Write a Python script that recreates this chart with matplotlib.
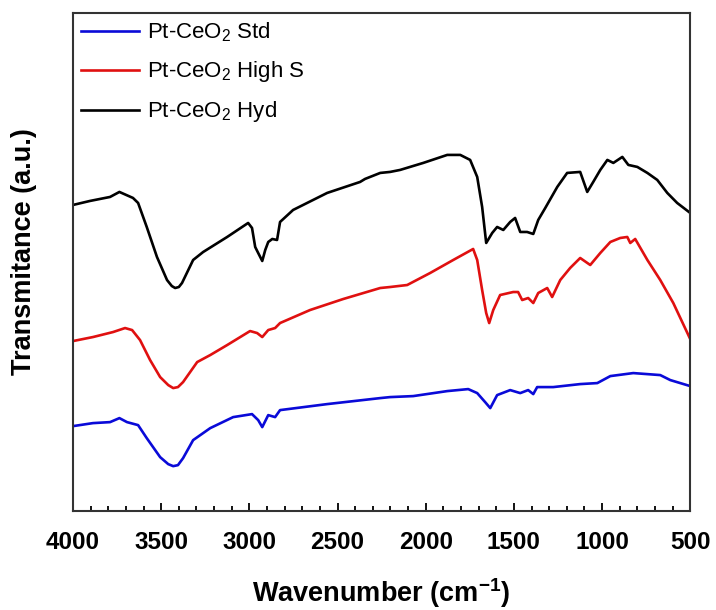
import numpy as np
import matplotlib
matplotlib.use('Agg')
import matplotlib.pyplot as plt
from matplotlib.ticker import MultipleLocator

plt.rcParams['font.family'] = ['Liberation Sans', 'DejaVu Sans']
plt.rcParams['mathtext.fontset'] = 'custom'
plt.rcParams['mathtext.rm'] = 'Liberation Sans'
plt.rcParams['mathtext.bf'] = 'Liberation Sans:bold'

# Spektra FTIR (satuan arbitrer)
wn_hyd = [4000, 3904, 3790, 3737, 3660, 3631, 3582, 3524, 3467, 3440, 3421, 3400, 3382, 3319, 3262,
          3126, 3007, 2985, 2967, 2950, 2927, 2910, 2893, 2870, 2843, 2826, 2752, 2559,
          2372, 2344, 2258, 2202, 2145, 2014, 1878, 1804, 1748, 1708, 1680, 1657, 1623,
          1595, 1560, 1521, 1493, 1464, 1425, 1390, 1362, 1322, 1254, 1198, 1124, 1084,
          1050, 1010, 970, 936, 885, 851, 800, 743, 687, 630, 574, 500]
t_hyd = [306, 310, 314, 319, 313, 308, 284, 254, 231, 225, 223, 224, 228, 251, 259,
         274, 288, 283, 264, 258, 250, 261, 269, 272, 271, 289, 301, 318,
         329, 332, 338, 339, 341, 348, 356, 356, 351, 334, 304, 268, 278,
         284, 281, 289, 293, 279, 279, 277, 291, 303, 324, 338, 339, 319,
         329, 341, 351, 348, 354, 346, 344, 338, 331, 318, 308, 298]

wn_high = [4000, 3887, 3773, 3705, 3665, 3620, 3563, 3506, 3460, 3432, 3405, 3376, 3296, 3222, 3126,
           2996, 2956, 2927, 2893, 2854, 2826, 2656, 2468, 2258, 2202, 2105, 1975, 1844,
           1731, 1708, 1680, 1657, 1640, 1617, 1578, 1504, 1476, 1453, 1419, 1390, 1362,
           1311, 1283, 1237, 1181, 1124, 1067, 1010, 953, 897, 857, 840, 812, 743, 670,
           596, 500]
t_high = [170, 174, 179, 183, 181, 171, 151, 134, 126, 123, 124, 129, 149, 156, 166,
          180, 178, 174, 181, 183, 188, 201, 212, 223, 224, 226, 238, 251,
          262, 251, 221, 198, 188, 201, 216, 219, 219, 211, 213, 208, 218,
          223, 214, 231, 243, 253, 246, 258, 269, 273, 274, 268, 272, 251, 231,
          208, 172]

wn_std = [4000, 3887, 3790, 3737, 3694, 3631, 3582, 3506, 3460, 3432, 3405, 3376, 3319, 3222, 3092,
          2985, 2950, 2927, 2893, 2854, 2826, 2559, 2258, 2202, 2071, 1878, 1759, 1708,
          1663, 1634, 1595, 1521, 1464, 1419, 1390, 1368, 1277, 1124, 1027, 953, 823,
          670, 613, 500]
t_std = [85, 88, 89, 93, 89, 86, 73, 54, 47, 45, 46, 53, 71, 83, 94,
         97, 91, 84, 96, 94, 101, 107, 113, 114, 115, 120, 122, 118,
         109, 103, 116, 121, 118, 121, 117, 124, 124, 127, 128, 135, 138,
         136, 131, 125]

labels = [r'Pt-CeO$_2$ Std', r'Pt-CeO$_2$ High S', r'Pt-CeO$_2$ Hyd']

fig = plt.figure(figsize=(7.16, 6.10), dpi=100)
ax = fig.add_axes([0.102, 0.162, 0.862, 0.817])

ax.plot(wn_std, t_std, color='#0a0ad8', lw=1.9, label=labels[0])
ax.plot(wn_high, t_high, color='#e01010', lw=1.9, label=labels[1])
ax.plot(wn_hyd, t_hyd, color='black', lw=1.9, label=labels[2])

ax.set_xlim(4000, 500)
ax.set_ylim(0, 498)
ax.xaxis.set_major_locator(MultipleLocator(500))
ax.xaxis.set_minor_locator(MultipleLocator(100))
ax.tick_params(axis='x', which='major', direction='in', length=6, width=1.3,
               labelsize=17.5, pad=14)
ax.tick_params(axis='x', which='minor', direction='in', length=3.5, width=1.3)
ax.set_yticks([])
for lbl in ax.get_xticklabels():
    lbl.set_fontweight('bold')
for sp in ax.spines.values():
    sp.set_linewidth(1.5)
    sp.set_color('#333333')

ax.set_xlabel(r'Wavenumber (cm$^{\mathbf{-1}}$)', fontsize=19.5, fontweight='bold', labelpad=16)
ax.set_ylabel('Transmitance (a.u.)', fontsize=19.5, fontweight='bold')
ax.yaxis.set_label_coords(-0.058, 0.52)

ax.legend(loc='upper left', frameon=False, fontsize=16, handlelength=2.6,
          handletextpad=0.4, labelspacing=0.68, borderaxespad=0.0, borderpad=0.35)

plt.savefig('out.png', dpi=100)
